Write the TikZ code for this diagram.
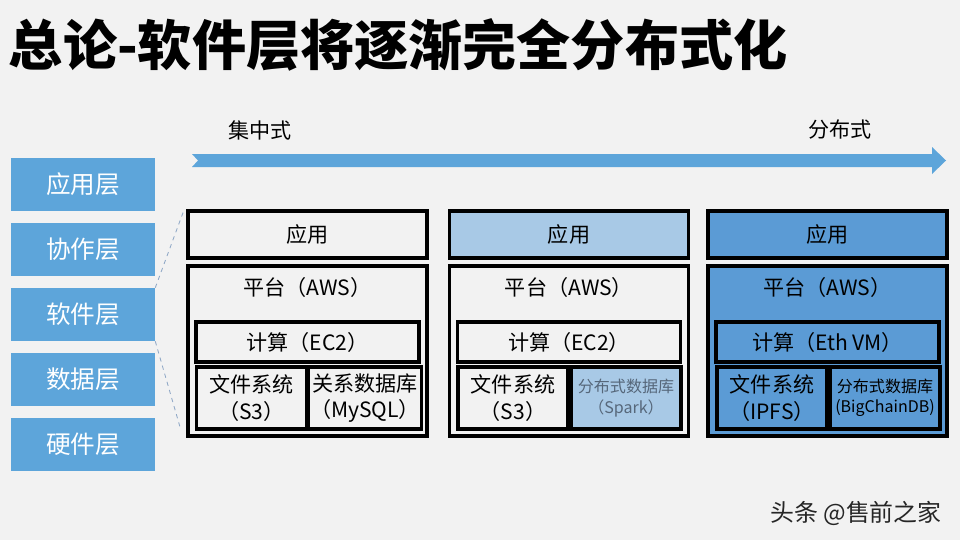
\documentclass[tikz,border=0pt]{standalone}
\usepackage{fontspec}
\setmainfont{Noto Sans CJK SC}
\usetikzlibrary{positioning}
\definecolor{lyBack}{HTML}{F2F2F2}
\definecolor{lyBlue}{HTML}{5DA5DA}
\definecolor{lyLight}{HTML}{A8C9E6}
\definecolor{lyDeep}{HTML}{5B9BD5}
\definecolor{lyGrey}{HTML}{56677A}
\definecolor{lyDash}{HTML}{8FA8C6}
\tikzset{
  layer/.style={fill=lyBlue, text=white, minimum width=3.6cm, minimum height=1.325cm,
              inner sep=0pt, font=\fontsize{17.5}{20}\selectfont},
  blk/.style={draw=black, line width=2.2pt, align=center, inner sep=1pt,
              font=\fontsize{15}{19}\selectfont},
  app/.style={minimum width=5.975cm, minimum height=1.175cm},
  plat/.style={minimum width=5.975cm, minimum height=4.25cm},
  comp/.style={minimum width=5.575cm, minimum height=1.0cm},
  cell/.style={minimum width=2.75cm, minimum height=1.55cm},
  small/.style={font=\fontsize{11.4}{14.5}\selectfont},
  txt/.style={font=\fontsize{15}{19}\selectfont},
  guide/.style={draw=lyDash, line width=0.6pt, dashed},
  wmark/.style={font=\fontsize{17}{20}\selectfont, text=black!85},
}

\begin{document}
\begin{tikzpicture}
        \fill[lyBack] (0,0) rectangle (24,13.5);
        \useasboundingbox (0,0) rectangle (24,13.5);
        \node[anchor=west,font=\fontsize{38.5}{42}\selectfont\bfseries] (title) at (0.1,12.375)
          {总论-软件层将逐渐完全分布式化};
        % trend arrow
        \fill[lyBlue] (4.8,9.65) -- (23.3,9.65) -- (23.3,9.825) -- (23.65,9.4875) -- (23.3,9.15)
          -- (23.3,9.325) -- (4.8,9.325) -- (4.95,9.4875) -- cycle;
        \node[txt] (cen) at (6.5,10.25) {集中式};
        \node[txt] (dis) at (21.0,10.25) {分布式};
        % layers
        \foreach \t [count=\i] in {应用层,协作层,软件层,数据层,硬件层}
          {\node[layer] (L\i) at (2.075,{10.5125-1.625*\i}) {\t};}
        \coordinate (d1) at (4.6,8.25);
        \coordinate (d2) at (4.5,2.825);
        \draw[guide] (L3.north east) -- (d1);
        \draw[guide] (L3.south east) -- (d2);
        % centralised
        \node[blk,app] (app1) at (7.6875,7.6375) {应用};
        \node[blk,plat] (pf1) at (7.6875,4.725) {};
        \node[txt] (aws1) at (7.6875,6.325) {平台（AWS）};
        \node[blk,comp] (ec1) at (7.6875,4.95) {计算（EC2）};
        \node[blk,cell] (fs1) at (6.2875,3.55) {文件系统\\（S3）};
        \node[blk,cell] (db1) at (9.125,3.55) {关系数据库\\（MySQL）};
        % half way
        \node[blk,app,fill=lyLight] (app2) at (14.225,7.6375) {应用};
        \node[blk,plat] (pf2) at (14.225,4.725) {};
        \node[txt] (aws2) at (14.225,6.325) {平台（AWS）};
        \node[blk,comp] (ec2) at (14.225,4.95) {计算（EC2）};
        \node[blk,cell] (fs2) at (12.825,3.55) {文件系统\\（S3）};
        \node[blk,cell,fill=lyLight,small,text=lyGrey] (db2) at (15.65,3.55) {分布式数据库\\（Spark）};
        % distributed
        \node[blk,app,fill=lyDeep] (app3) at (20.6875,7.6375) {应用};
        \node[blk,plat,fill=lyDeep] (pf3) at (20.6875,4.725) {};
        \node[txt] (aws3) at (20.6875,6.325) {平台（AWS）};
        \node[blk,comp,fill=lyDeep] (ec3) at (20.6875,4.95) {计算（Eth VM）};
        \node[blk,cell,fill=lyDeep] (fs3) at (19.3,3.55) {文件系统\\（IPFS）};
        \node[blk,cell,fill=lyDeep,small] (db3) at (22.125,3.55) {分布式数据库\\(BigChainDB)};
        \node[wmark] (wm) at (21.4,0.675) {头条 @售前之家};
      \end{tikzpicture}
\end{document}
